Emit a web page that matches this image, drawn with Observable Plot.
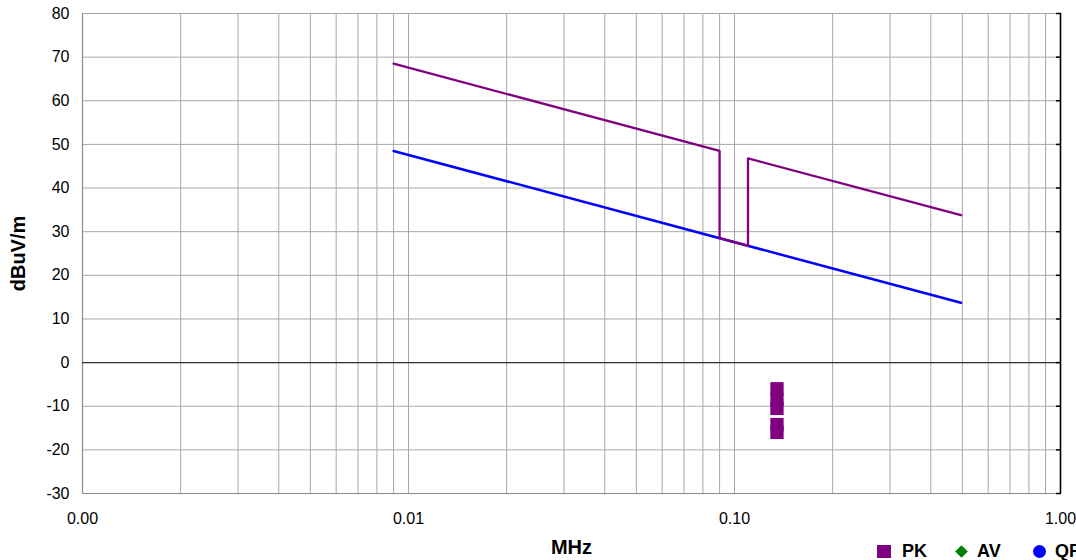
<!DOCTYPE html>
<html>
<head>
<meta charset="utf-8">
<script src="https://cdn.jsdelivr.net/npm/d3@7"></script>
<script src="https://cdn.jsdelivr.net/npm/@observablehq/plot@0.6"></script>
<style>
  html, body { margin: 0; padding: 0; background: #fff; }
  #wrap { position: relative; width: 1076px; height: 560px; overflow: hidden; font-family: "Liberation Sans", Arial, sans-serif; }
  #wrap svg g[aria-label="x-axis label"], #wrap svg g[aria-label="y-axis label"] { font-size: 20px; font-weight: bold; }
  .lg { position: absolute; font-size: 18px; font-weight: bold; color: #000; line-height: 18px; }
  .sym { position: absolute; }
</style>
</head>
<body>
<div id="wrap"></div>
<script>
// ---- data ----
const pkLimitFreq  = [0.009, 0.09, 0.09, 0.11, 0.11, 0.495];
const pkLimitLevel = [68.5, 48.5, 28.5, 26.8, 46.8, 33.8];
const qpLimitFreq  = [0.009, 0.495];
const qpLimitLevel = [48.5, 13.7];
const pkFreq  = [0.135, 0.135, 0.135, 0.135, 0.135];
const pkLevel = [-6.0, -8.5, -10.5, -14.2, -16.0];
const xTicks = [0.001, 0.01, 0.1, 1];
const xTickLabels = ["0.00", "0.01", "0.10", "1.00"];
const yTicks = [-30, -20, -10, 0, 10, 20, 30, 40, 50, 60, 70, 80];
const gridFreqs = [0.001, 0.002, 0.003, 0.004, 0.005, 0.006, 0.007, 0.008, 0.009,
                   0.01, 0.02, 0.03, 0.04, 0.05, 0.06, 0.07, 0.08, 0.09,
                   0.1, 0.2, 0.3, 0.4, 0.5, 0.6, 0.7, 0.8, 0.9, 1];
const legendNames = ["PK", "AV", "QP"];
const legendColors = ["#800080", "#008000", "#0000ff"];

const pkLimit = pkLimitFreq.map((f, i) => ({f, v: pkLimitLevel[i]}));
const qpLimit = qpLimitFreq.map((f, i) => ({f, v: qpLimitLevel[i]}));
const pkPoints = pkFreq.map((f, i) => ({f, v: pkLevel[i]}));

const chart = Plot.plot({
  width: 1076,
  height: 560,
  marginLeft: 82,
  marginRight: 16,
  marginTop: 13,
  marginBottom: 67,
  style: { fontFamily: "Liberation Sans, Arial, sans-serif", fontSize: "16px", color: "#000", background: "#fff", overflow: "visible" },
  x: { type: "log", domain: [0.001, 1] },
  y: { domain: [-30, 80] },
  marks: [
    Plot.ruleX(gridFreqs, { stroke: "#a8a8a8", strokeWidth: 1 }),
    Plot.ruleY(yTicks, { stroke: "#a8a8a8", strokeWidth: 1 }),
    Plot.ruleX([0.001], { stroke: "#8c8c8c", strokeWidth: 1.2 }),
    Plot.ruleY([-30], { stroke: "#8c8c8c", strokeWidth: 1.2 }),
    Plot.ruleY([0], { stroke: "#333", strokeWidth: 1.3 }),
    Plot.ruleX([1], { stroke: "#000", strokeWidth: 1.6 }),
    Plot.axisY({ anchor: "right", ticks: yTicks, tickSize: -5, tickFormat: () => "", stroke: "#000", strokeWidth: 1.5, label: null }),
    Plot.axisX({ ticks: xTicks, tickSize: 0, tickPadding: 19, tickFormat: d => xTickLabels[xTicks.indexOf(d)],
                 label: "MHz", labelAnchor: "center", labelArrow: "none", labelOffset: 60 }),
    Plot.axisY({ ticks: yTicks, tickSize: 0, tickPadding: 13, tickFormat: d => String(d),
                 label: "dBuV/m", labelAnchor: "center", labelArrow: "none", labelOffset: 72 }),
    Plot.line(qpLimit, { x: "f", y: "v", stroke: "#0000ff", strokeWidth: 2.5 }),
    Plot.line(pkLimit, { x: "f", y: "v", stroke: "#800080", strokeWidth: 2.3 }),
    Plot.dot(pkPoints, { x: "f", y: "v", symbol: "square", fill: "#800080", r: 7.5 })
  ]
});

const wrap = document.getElementById("wrap");
wrap.appendChild(chart);

// legend (HTML, over the bottom strip)
const legendSpec = [
  { sym: "square", left: 877, textLeft: 902 },
  { sym: "diamond", left: 955, textLeft: 977 },
  { sym: "circle", left: 1033, textLeft: 1055 }
];
legendSpec.forEach((s, i) => {
  const sym = document.createElement("div");
  sym.className = "sym";
  const c = legendColors[i];
  if (s.sym === "square") {
    Object.assign(sym.style, { left: s.left + "px", top: "545px", width: "14px", height: "13px", background: c });
  } else if (s.sym === "diamond") {
    Object.assign(sym.style, { left: (s.left + 2) + "px", top: "547px", width: "9px", height: "9px", background: c, transform: "rotate(45deg)" });
  } else {
    Object.assign(sym.style, { left: s.left + "px", top: "545px", width: "13px", height: "13px", background: c, borderRadius: "50%" });
  }
  wrap.appendChild(sym);
  const t = document.createElement("div");
  t.className = "lg";
  t.style.left = s.textLeft + "px";
  t.style.top = "542px";
  t.textContent = legendNames[i];
  wrap.appendChild(t);
});
</script>
</body>
</html>
